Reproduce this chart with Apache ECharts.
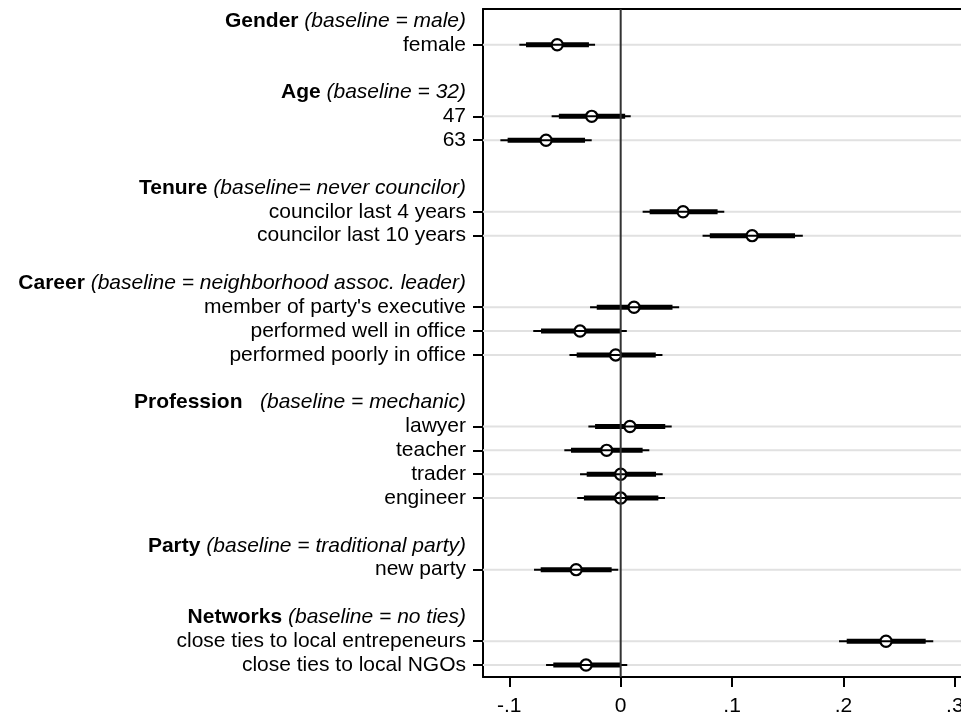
<!DOCTYPE html>
<html>
<head>
<meta charset="utf-8">
<script src="https://cdn.jsdelivr.net/npm/echarts@6/dist/echarts.min.js"></script>
<style>
html,body{margin:0;padding:0;background:#fff;}
#chart{width:961px;height:719px;}
</style>
</head>
<body>
<div id="chart"></div>
<script>
// ---- data ----
const groupNames = ['Gender', 'Age', 'Tenure', 'Career', 'Profession ', 'Party', 'Networks'];
const groupBaselines = [
  '(baseline = male)',
  '(baseline = 32)',
  '(baseline= never councilor)',
  '(baseline = neighborhood assoc. leader)',
  ' (baseline = mechanic)',
  '(baseline = traditional party)',
  '(baseline = no ties)'
];
const groupItems = [
  ['female'],
  ['47', '63'],
  ['councilor last 4 years', 'councilor last 10 years'],
  ["member of party's executive", 'performed well in office', 'performed poorly in office'],
  ['lawyer', 'teacher', 'trader', 'engineer'],
  ['new party'],
  ['close ties to local entrepeneurs', 'close ties to local NGOs']
];
// values in item order
const estimates = [-0.057, -0.026, -0.067, 0.056, 0.118, 0.012, -0.0365, -0.0045, 0.0083, -0.0126, 0.000, 0.000, -0.040, 0.2382, -0.0311];
const lower95   = [-0.091, -0.062, -0.108, 0.0197, 0.0735, -0.0275, -0.0785, -0.046, -0.029, -0.0506, -0.0365, -0.039, -0.0778, 0.196, -0.067];
const upper95   = [-0.023, 0.009, -0.026, 0.093, 0.1635, 0.0525, 0.0055, 0.0375, 0.0458, 0.0257, 0.0377, 0.0398, -0.0022, 0.2806, 0.0059];
const lower90   = [-0.085, -0.0555, -0.1015, 0.026, 0.080, -0.0215, -0.0715, -0.0395, -0.023, -0.0446, -0.0305, -0.033, -0.0718, 0.2029, -0.0605];
const upper90   = [-0.0285, 0.004, -0.032, 0.087, 0.1565, 0.0465, -0.0005, 0.0315, 0.040, 0.0197, 0.0317, 0.0338, -0.0081, 0.2738, 0.000];
const xTickValues = [-0.1, 0, 0.1, 0.2, 0.3];
const xTickLabels = ['-.1', '0', '.1', '.2', '.3'];

// ---- build rows ----
const rowKeys = [];
const rowText = [];
const rowType = [];
const itemRowIndex = [];
groupNames.forEach(function (g, gi) {
  rowKeys.push('h' + gi); rowType.push('h');
  rowText.push('{b|' + g + '} {i|' + groupBaselines[gi] + '}');
  groupItems[gi].forEach(function (it) {
    itemRowIndex.push(rowKeys.length);
    rowKeys.push('i' + itemRowIndex.length); rowType.push('i');
    rowText.push('{n|' + it + '}');
  });
  if (gi < groupNames.length - 1) {
    rowKeys.push('b' + gi); rowType.push('b'); rowText.push('');
  }
});

const ciData = itemRowIndex.map(function (r, k) {
  return [r, estimates[k], lower95[k], upper95[k], lower90[k], upper90[k]];
});
const gridData = itemRowIndex.map(function (r) { return [0, r]; });

const FONT = "'Liberation Sans', Arial, Helvetica, sans-serif";
const FS = 21;
const X_MIN = -0.1236, X_MAX = 0.3055;

const chart = echarts.init(document.getElementById('chart'), null, {renderer: 'canvas'});
chart.setOption({
  animation: false,
  backgroundColor: '#fff',
  grid: {left: 483, top: 9, right: 0, bottom: 42, show: false, containLabel: false, outerBoundsMode: 'none'},
  xAxis: [{
    type: 'value',
    min: X_MIN, max: X_MAX,
    axisLine: {show: true, onZero: false, lineStyle: {color: '#000', width: 2}},
    axisTick: {show: true, length: 10, customValues: xTickValues, lineStyle: {color: '#000', width: 2}},
    axisLabel: {
      show: true, customValues: xTickValues, margin: 19,
      color: '#000', fontSize: FS, fontFamily: FONT,
      formatter: function (v) {
        let best = 0;
        xTickValues.forEach(function (t, i) { if (Math.abs(t - v) < Math.abs(xTickValues[best] - v)) best = i; });
        return xTickLabels[best];
      }
    },
    splitLine: {show: false}
  }, {
    type: 'value',
    position: 'top',
    min: X_MIN, max: X_MAX,
    axisLine: {show: true, onZero: false, lineStyle: {color: '#000', width: 2}},
    axisTick: {show: false},
    axisLabel: {show: false},
    splitLine: {show: false}
  }],
  yAxis: {
    type: 'category',
    inverse: true,
    data: rowKeys,
    boundaryGap: true,
    axisLine: {show: true, onZero: false, lineStyle: {color: '#000', width: 2}},
    axisTick: {
      show: true, alignWithLabel: true, length: 10,
      interval: function (index) { return rowType[index] === 'i'; },
      lineStyle: {color: '#000', width: 2}
    },
    axisLabel: {
      show: true, interval: 0, margin: 17,
      color: '#000', fontSize: FS, fontFamily: FONT,
      formatter: function (v, idx) { return rowText[idx]; },
      rich: {
        b: {fontWeight: 'bold', fontSize: FS, fontFamily: FONT, color: '#000'},
        i: {fontStyle: 'italic', fontSize: FS, fontFamily: FONT, color: '#000'},
        n: {fontSize: FS, fontFamily: FONT, color: '#000'}
      }
    },
    splitLine: {show: false}
  },
  series: [
    {
      type: 'custom',
      name: 'grid',
      silent: true,
      z: 1,
      data: gridData,
      encode: {x: 0, y: 1},
      renderItem: function (params, api) {
        const cs = params.coordSys;
        const y = api.coord([0, api.value(1)])[1];
        return {
          type: 'line',
          shape: {x1: cs.x, y1: y, x2: cs.x + cs.width, y2: y},
          style: {stroke: '#e1e1e1', lineWidth: 2}
        };
      }
    },
    {
      type: 'custom',
      name: 'ci',
      silent: true,
      z: 3,
      data: ciData,
      encode: {x: [1, 2, 3, 4, 5], y: 0},
      renderItem: function (params, api) {
        const r = api.value(0);
        const pEst = api.coord([api.value(1), r]);
        const p95a = api.coord([api.value(2), r]);
        const p95b = api.coord([api.value(3), r]);
        const p90a = api.coord([api.value(4), r]);
        const p90b = api.coord([api.value(5), r]);
        return {
          type: 'group',
          children: [
            {type: 'line', shape: {x1: p90a[0], y1: p90a[1], x2: p90b[0], y2: p90b[1]},
             style: {stroke: '#000', lineWidth: 5, lineCap: 'butt'}},
            {type: 'circle', shape: {cx: pEst[0], cy: pEst[1], r: 5.6},
             style: {fill: '#fff', stroke: '#000', lineWidth: 2.2}},
            {type: 'line', shape: {x1: p95a[0], y1: p95a[1], x2: p95b[0], y2: p95b[1]},
             style: {stroke: '#000', lineWidth: 2, lineCap: 'butt'}}
          ]
        };
      }
    },
    {
      type: 'custom',
      name: 'zero',
      silent: true,
      z: 5,
      data: [[0, 0]],
      encode: {x: 0, y: 1},
      renderItem: function (params, api) {
        const cs = params.coordSys;
        const x = api.coord([api.value(0), 0])[0];
        return {
          type: 'line',
          shape: {x1: x, y1: cs.y, x2: x, y2: cs.y + cs.height},
          style: {stroke: '#333', lineWidth: 2}
        };
      }
    }
  ]
});
</script>
</body>
</html>
